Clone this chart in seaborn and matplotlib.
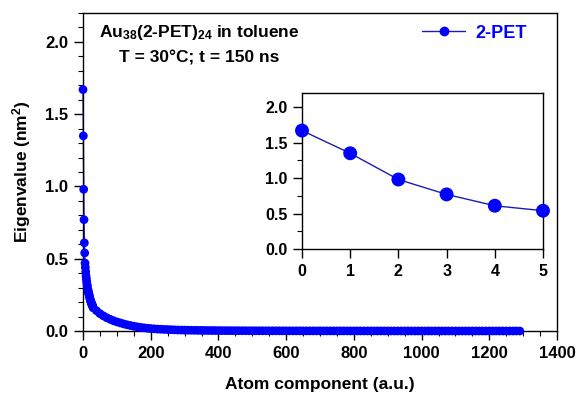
import matplotlib
matplotlib.use("Agg")
import matplotlib.pyplot as plt
from matplotlib.lines import Line2D
from matplotlib.ticker import MultipleLocator
import pandas as pd
import seaborn as sns

# 前 30 个本征值
head_components = list(range(30))
head_values = [1.67, 1.35, 0.98, 0.77, 0.61, 0.54, 0.47, 0.44, 0.41, 0.38,
               0.36, 0.34, 0.32, 0.31, 0.29, 0.28, 0.27, 0.26, 0.25, 0.24,
               0.23, 0.22, 0.21, 0.205, 0.20, 0.19, 0.185, 0.18, 0.175, 0.17]

# 之后每隔 10 个分量读取一次
tail_components = list(range(30, 1300, 10))
tail_values = [0.160, 0.140, 0.120, 0.105, 0.092, 0.081, 0.071, 0.063, 0.056, 0.049,
               0.043, 0.038, 0.033, 0.029, 0.025, 0.022, 0.019, 0.017, 0.015, 0.013,
               0.012, 0.011, 0.010, 0.009, 0.008, 0.007, 0.0065, 0.006, 0.0055, 0.005,
               0.0047, 0.0044, 0.0041, 0.0038, 0.0035, 0.0033, 0.0031, 0.0029, 0.0027, 0.0025,
               0.0024, 0.0023, 0.0022, 0.0021, 0.0020, 0.0019, 0.0018, 0.0017, 0.0016, 0.0015,
               0.0015, 0.0014, 0.0014, 0.0013, 0.0013, 0.0012, 0.0012, 0.0011, 0.0011, 0.0010,
               0.0010, 0.0010, 0.0009, 0.0009, 0.0009, 0.0008, 0.0008, 0.0008, 0.0007, 0.0007,
               0.0007, 0.0007, 0.0006, 0.0006, 0.0006, 0.0006, 0.0005, 0.0005, 0.0005, 0.0005,
               0.0005, 0.0004, 0.0004, 0.0004, 0.0004, 0.0004, 0.0004, 0.0003, 0.0003, 0.0003,
               0.0003, 0.0003, 0.0003, 0.0003, 0.0003, 0.0002, 0.0002, 0.0002, 0.0002, 0.0002,
               0.0002, 0.0002, 0.0002, 0.0002, 0.0002, 0.0002, 0.0001, 0.0001, 0.0001, 0.0001,
               0.0001, 0.0001, 0.0001, 0.0001, 0.0001, 0.0001, 0.0001, 0.0001, 0.0001, 0.0001,
               0.0001, 0.0001, 0.0001, 0.0001, 0.0001, 0.0001, 0.0001]

# 插图：前 6 个本征值
inset_components = [0, 1, 2, 3, 4, 5]
inset_values = [1.67, 1.35, 0.98, 0.77, 0.61, 0.54]

x_ticks = [0, 200, 400, 600, 800, 1000, 1200, 1400]
y_ticks = [0.0, 0.5, 1.0, 1.5, 2.0]

MARKER_BLUE = "#0000ff"
LINE_BLUE = "#1c1cb4"

df = pd.DataFrame({"component": head_components + tail_components,
                   "eigenvalue": head_values + tail_values})
df_inset = pd.DataFrame({"component": inset_components, "eigenvalue": inset_values})

sns.set_theme(style="ticks")
plt.rcParams["font.family"] = ["Liberation Sans", "DejaVu Sans"]
plt.rcParams["font.weight"] = "bold"
plt.rcParams["text.color"] = "black"
plt.rcParams["axes.labelcolor"] = "black"
plt.rcParams["xtick.color"] = "black"
plt.rcParams["ytick.color"] = "black"
plt.rcParams["mathtext.fontset"] = "custom"
plt.rcParams["mathtext.rm"] = "Liberation Sans:bold"
plt.rcParams["mathtext.bf"] = "Liberation Sans:bold"
plt.rcParams["mathtext.default"] = "bf"


def draw_series(axis, data, size):
    """画连线，再用散点画标记"""
    sns.lineplot(data=data, x="component", y="eigenvalue", ax=axis, color=LINE_BLUE,
                 linewidth=1.0)
    sns.scatterplot(data=data, x="component", y="eigenvalue", ax=axis, color=MARKER_BLUE,
                    s=size ** 2, linewidth=0, edgecolor="none", alpha=1.0, zorder=3)
    for line in axis.lines:
        line.set_clip_on(False)
    for coll in axis.collections:
        coll.set_clip_on(False)


def style_box(axis):
    for spine in axis.spines.values():
        spine.set_visible(True)
        spine.set_color("black")
        spine.set_linewidth(1.0)
    for lab in axis.get_xticklabels() + axis.get_yticklabels():
        lab.set_fontweight("bold")
        lab.set_color("black")


fig = plt.figure(figsize=(5.8, 4.01), dpi=100)
ax = fig.add_axes([83 / 580, 1 - 331 / 401, (557 - 83) / 580, (331 - 13) / 401])
draw_series(ax, df, 6.3)

ax.set_xlim(0, 1400)
ax.set_ylim(0, 2.2)
ax.set_xticks(x_ticks)
ax.set_yticks(y_ticks)
ax.set_yticklabels([f"{v:.1f}" for v in y_ticks])
ax.xaxis.set_minor_locator(MultipleLocator(50))
ax.yaxis.set_minor_locator(MultipleLocator(0.1))
ax.tick_params(axis="both", which="major", direction="out", length=6.5, width=1,
               labelsize=12, color="black", labelcolor="black", pad=4)
ax.tick_params(axis="both", which="minor", direction="out", length=3.5, width=0.8, color="black")
style_box(ax)

ax.set_xlabel("Atom component (a.u.)", fontsize=12.5, fontweight="bold", labelpad=12, color="black")
ax.set_ylabel("Eigenvalue (nm$^2$)", fontsize=12.5, fontweight="bold", labelpad=9, color="black")

# 标注
fig.text(199 / 580, 1 - 33 / 401, "Au$_{38}$(2-PET)$_{24}$ in toluene", ha="center", va="center",
         fontsize=12.5, fontweight="bold", color="black")
fig.text(199 / 580, 1 - 58 / 401, "T = 30°C; t = 150 ns", ha="center", va="center",
         fontsize=12.5, fontweight="bold", color="black")

# 图例
handle = Line2D([], [], color=LINE_BLUE, linewidth=1.0, marker="o", markersize=6,
                markerfacecolor=MARKER_BLUE, markeredgecolor=MARKER_BLUE)
leg = ax.legend([handle], ["2-PET"], loc="center left", bbox_to_anchor=(422 / 580, 1 - 33 / 401),
                bbox_transform=fig.transFigure, frameon=False, handlelength=2.4,
                handletextpad=0.55, borderaxespad=0, borderpad=0,
                prop={"size": 13, "weight": "bold"})
for txt in leg.get_texts():
    txt.set_color(MARKER_BLUE)

# 插图
axin = fig.add_axes([302 / 580, 1 - 249 / 401, (543 - 302) / 580, (249 - 93) / 401])
draw_series(axin, df_inset, 10.0)
axin.set_xlim(0, 5)
axin.set_ylim(0, 2.2)
axin.set_xticks(inset_components)
axin.set_yticks(y_ticks)
axin.set_yticklabels([f"{v:.1f}" for v in y_ticks])
axin.yaxis.set_minor_locator(MultipleLocator(0.25))
axin.tick_params(axis="both", which="major", direction="out", length=6.5, width=1,
                 labelsize=11.5, color="black", labelcolor="black", pad=4)
axin.tick_params(axis="y", which="minor", direction="out", length=3.5, width=0.8, color="black")
axin.set_xlabel("")
axin.set_ylabel("")
style_box(axin)

fig.savefig("out.png", dpi=100)
